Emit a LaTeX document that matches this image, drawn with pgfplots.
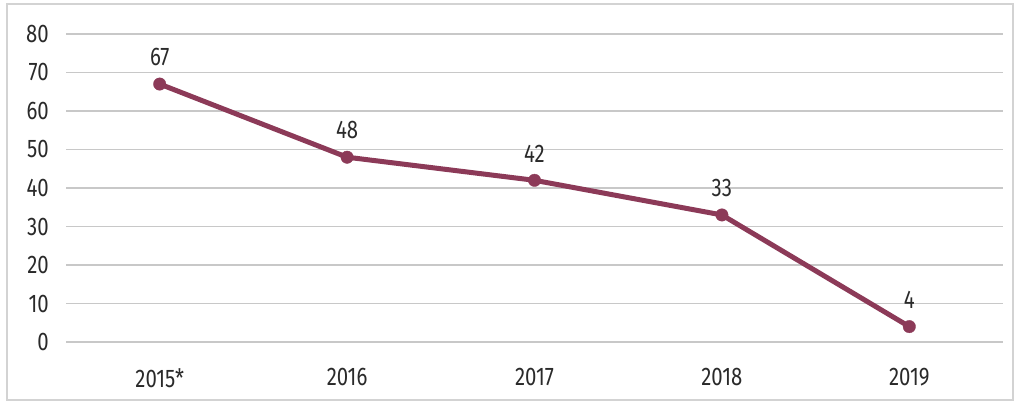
\documentclass[border=0pt]{standalone}
\usepackage{pgfplots}
\pgfplotsset{compat=1.18}
\usepackage{fontspec}
\setmainfont[FakeStretch=0.8]{Fira Sans}
\definecolor{lineC}{HTML}{8C3A58}
\definecolor{txt}{HTML}{2A2A2A}
\definecolor{gridC}{HTML}{C8C8C8}
\begin{document}
\begin{tikzpicture}
\path[use as bounding box] (0,0) rectangle (203.6mm,80.2mm);
\draw[gridC!80, line width=0.6pt] (1.4mm,0.2mm) rectangle (202.6mm,79.4mm);
\begin{axis}[
  at={(13.2mm,11.8mm)}, anchor=south west,
  scale only axis, width=187.4mm, height=61.6mm,
  xmin=-0.5, xmax=4.5, ymin=0, ymax=80,
  axis line style={draw=none},
  xtick={0,1,2,3,4},
  xticklabels={2015*,2016,2017,2018,2019},
  ytick={0,10,...,80},
  ymajorgrids, grid style={gridC, line width=0.8pt},
  major tick length=0pt,
  tick label style={font=\fontsize{14.5}{16}\selectfont, text=txt},
  /pgf/number format/assume math mode=true,
  xticklabel style={yshift=-4.0mm},
  yticklabel style={xshift=-2.2mm},
  nodes near coords,
  every node near coord/.append style={font=\fontsize{14.5}{16}\selectfont, text=txt, yshift=2.4mm},
  clip=false,
]
\addplot[lineC, line width=1.0mm, mark=*, mark size=1.25mm, mark options={fill=lineC, draw=lineC, line width=0.2pt}] coordinates {
(0,67) (1,48) (2,42) (3,33) (4,4)
};
\end{axis}
\end{tikzpicture}
\end{document}
